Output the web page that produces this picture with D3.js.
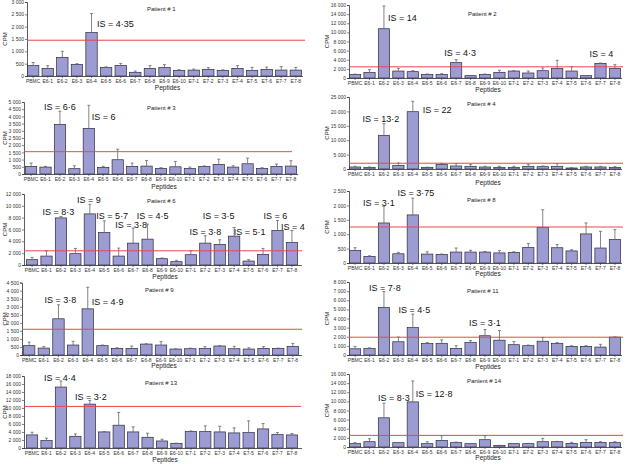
<!DOCTYPE html>
<html><head><meta charset="utf-8">
<script src="https://cdn.jsdelivr.net/npm/d3@7"></script>
<style>
html,body{margin:0;padding:0;background:#fff;}
svg{display:block;font-family:"Liberation Sans",Arial,sans-serif;}
</style></head>
<body>
<svg id="chart" width="626" height="464"></svg>
<script>
// ---------------- DATA ----------------
const categories = ["PBMC","E6-1","E6-2","E6-3","E6-4","E6-5","E6-6","E6-7","E6-8","E6-9","E6-10","E7-1","E7-2","E7-3","E7-4","E7-5","E7-6","E7-7","E7-8"];

const patientNames = ["Patient # 1","Patient # 2","Patient # 3","Patient # 4","Patient # 6","Patient # 8","Patient # 9","Patient # 11","Patient # 13","Partient # 14"];

// mean CPM per peptide
const p1Values  = [420,310,750,470,1760,340,430,150,310,340,230,240,270,230,310,230,270,240,240];
const p1ErrTop  = [550,420,1000,500,2530,370,510,200,420,460,255,280,340,250,420,350,360,380,350];
const p2Values  = [800,1240,10800,1530,1390,800,800,3360,510,800,1240,1530,1100,1600,2120,1530,510,3210,2120];
const p2ErrTop  = [850,1830,15780,2120,1600,880,950,4020,540,880,1680,1600,1530,2190,3870,2480,540,3290,2920];
const p3Values  = [530,480,3440,370,3170,460,990,530,550,390,500,390,530,670,480,710,390,530,550];
const p3ErrTop  = [760,530,4360,570,4770,530,1720,760,940,440,870,480,560,1030,570,1100,440,690,920];
const p4Values  = [700,580,11700,1270,19900,580,1620,1040,930,700,580,580,930,810,930,350,700,700,580];
const p4ErrTop  = [930,700,15740,2080,23500,640,1970,1850,1620,930,930,930,1620,1040,1850,460,930,930,810];
const p6Values  = [900,1510,7960,1910,8640,5500,1510,3700,4370,1070,560,1740,3700,3480,4880,670,1790,5830,3810];
const p6ErrTop  = [1290,2410,8190,2800,10260,7460,2860,6230,6900,1180,790,2410,4940,4260,6340,900,2800,7520,5830];
const p8Values  = [440,230,1390,320,1670,310,300,380,380,380,350,370,540,1240,530,420,1010,520,820];
const p8ErrTop  = [530,250,1970,370,2250,390,310,520,440,400,430,390,680,1850,640,460,1390,1100,1160];
const p9Values  = [580,430,2250,620,2870,580,410,410,680,620,370,390,410,560,390,370,410,410,540];
const p9ErrTop  = [800,520,3120,850,4210,620,450,560,700,830,390,430,520,580,540,450,520,430,720];
const p11Values = [680,700,5200,1450,3000,1250,1280,720,1360,2110,1620,1130,1020,1510,1280,940,940,870,1960];
const p11ErrTop = [950,780,6950,1960,4480,1360,1660,1020,1580,2790,2680,1470,1090,1920,1360,1020,1020,1170,1980];
const p13Values = [3270,1840,15240,2930,10970,4020,5700,4020,2680,1760,1170,4100,4100,4020,3770,3850,4770,3350,3270];
const p13ErrTop = [3940,2430,16750,3520,11890,4100,8880,5280,3690,2180,1200,4270,5530,5440,5030,6780,6110,3850,3600];
const p14Values = [730,1160,6400,950,9890,730,1450,950,730,1600,360,730,730,1160,1160,800,1020,1020,950];
const p14ErrTop = [950,1820,9600,990,14470,1160,2470,1090,760,2470,380,760,800,1890,1240,1020,1600,1160,1160];

// threshold (red line) per patient, CPM
const thresholds = [1450,2450,1550,2000,2400,1250,1600,1950,10400,2550];
// y-axis maxima and tick steps
const yMax  = [3000,16000,5000,25000,12000,2500,4500,8000,18000,16000];
const yStep = [500,2000,500,5000,2000,500,500,1000,2000,2000];

// stimulation index annotations: [text, category, CPM level]
const p1IS  = [["IS = 4·35","E6-4",2000]];
const p2IS  = [["IS = 14","E6-2",12500],["IS = 4·3","E6-7",4800],["IS = 4","E7-7",4600]];
const p3IS  = [["IS = 6·6","E6-2",4440],["IS = 6","E6-4",3750]];
const p4IS  = [["IS = 13·2","E6-2",16300],["IS = 22","E6-4",19440]];
const p6IS  = [["IS = 8·3","E6-2",8450],["IS = 9","E6-4",10480],["IS = 5·7","E6-5",7775],["IS = 3·8","E6-7",6250],["IS = 4·5","E6-8",7775],["IS = 3·8","E7-2",5070],["IS = 3·5","E7-3",7775],["IS = 5·1","E7-5",5070],["IS = 6","E7-7",7775],["IS = 4","E7-8",5915]];
const p8IS  = [["IS = 3·1","E6-2",1980],["IS = 3·75","E6-4",2330]];
const p9IS  = [["IS = 3·8","E6-2",3240],["IS = 4·9","E6-4",3110]];
const p11IS = [["IS = 7·8","E6-2",7010],["IS = 4·5","E6-4",4600],["IS = 3·1","E6-9",3180]];
const p13IS = [["IS = 4·4","E6-2",16750],["IS = 3·2","E6-4",12000]];
const p14IS = [["IS = 8·3","E6-2",10080],["IS = 12·8","E6-4",10960]];

const allValues = [p1Values,p2Values,p3Values,p4Values,p6Values,p8Values,p9Values,p11Values,p13Values,p14Values];
const allErr    = [p1ErrTop,p2ErrTop,p3ErrTop,p4ErrTop,p6ErrTop,p8ErrTop,p9ErrTop,p11ErrTop,p13ErrTop,p14ErrTop];
const allIS     = [p1IS,p2IS,p3IS,p4IS,p6IS,p8IS,p9IS,p11IS,p13IS,p14IS];

// ---------------- LAYOUT ----------------
// x0,x1: category range; axisX: y-axis line; y0: zero line; yT: top; red end; title pos; IS label placement [anchor, dx]
const layout = [
  {x0:26, x1:303, axisX:27, axEnd:303, y0:76,  yT:2,   redEnd:305, tx:147, ty:9,   cpmX:5,   pepY:88,  isPlace:[["start",5.5]]},
  {x0:348,x1:622, axisX:349,axEnd:622, y0:78,  yT:5,   redEnd:623, tx:468, ty:14,  cpmX:327, pepY:90,  isPlace:[["start",4],["middle",4],["middle",1]]},
  {x0:24, x1:298, axisX:24, axEnd:298, y0:174, yT:102, redEnd:292, tx:147, ty:108, cpmX:5,   pepY:187, isPlace:[["middle",0],["start",3]]},
  {x0:348,x1:622, axisX:349,axEnd:622, y0:169, yT:97,  redEnd:623, tx:467, ty:104, cpmX:327, pepY:183, isPlace:[["middle",-3],["start",10]]},
  {x0:25, x1:299, axisX:24, axEnd:302, y0:265, yT:194, redEnd:302, tx:147, ty:201, cpmX:5,   pepY:277, isPlace:[["middle",-2.5],["middle",-1],["middle",8],["middle",-2],["middle",5],["middle",0],["middle",-1],["middle",1],["middle",-2],["middle",1]]},
  {x0:348,x1:622, axisX:349,axEnd:622, y0:263, yT:191, redEnd:623, tx:467, ty:200, cpmX:327, pepY:274, isPlace:[["middle",-5],["middle",3]]},
  {x0:22, x1:300, axisX:22, axEnd:302, y0:355, yT:282.6,redEnd:302,tx:145, ty:290, cpmX:5,   pepY:366, isPlace:[["middle",2],["start",4]]},
  {x0:348,x1:622, axisX:349,axEnd:622, y0:355, yT:282, redEnd:623, tx:467, ty:291, cpmX:327, pepY:367, isPlace:[["middle",1],["middle",1.5],["middle",0]]},
  {x0:25, x1:299, axisX:24, axEnd:302, y0:448, yT:376, redEnd:301, tx:145, ty:383, cpmX:5,   pepY:460, isPlace:[["middle",-1],["middle",1]]},
  {x0:348,x1:622, axisX:349,axEnd:622, y0:447, yT:374, redEnd:623, tx:467, ty:381, cpmX:327, pepY:458, isPlace:[["middle",10],["start",3]]}
];

const barFill = "#9c9cd2", barStroke = "#2a2a40", redColor = "#e34a4a", textColor = "#222";
const fmt = d => d >= 1000 ? d3.format(",")(d).replace(/,/g, " ") : String(d);

const svg = d3.select("#chart");

layout.forEach((L, k) => {
  const vals = allValues[k], errs = allErr[k];
  const x = d3.scaleBand().domain(categories).range([L.x0, L.x1]).paddingInner(0.22).paddingOuter(0.1);
  const y = d3.scaleLinear().domain([0, yMax[k]]).range([L.y0, L.yT]);
  const g = svg.append("g");

  // y axis
  const ticks = d3.range(0, yMax[k] + 1, yStep[k]);
  const yAxis = d3.axisLeft(y).tickValues(ticks).tickFormat(fmt).tickSize(2).tickPadding(1);
  const ya = g.append("g").attr("transform", `translate(${L.axisX},0)`).call(yAxis);
  ya.select(".domain").attr("stroke", "#333").attr("stroke-width", 0.8);
  ya.selectAll(".tick line").attr("stroke", "#333").attr("stroke-width", 0.6);
  ya.selectAll(".tick text").attr("font-size", 5).attr("fill", "#333").attr("font-family", "Liberation Sans, Arial, sans-serif");

  // x axis
  const xa = g.append("g").attr("transform", `translate(0,${L.y0})`)
    .call(d3.axisBottom(x).tickSize(2).tickPadding(1.5));
  xa.select(".domain").attr("stroke", "#333").attr("stroke-width", 0.8)
    .attr("d", `M${L.axisX},0.5H${L.axEnd}`);
  xa.selectAll(".tick line").attr("stroke", "#333").attr("stroke-width", 0.6);
  xa.selectAll(".tick text").attr("font-size", 5).attr("fill", "#333").attr("font-family", "Liberation Sans, Arial, sans-serif");

  // bars
  g.selectAll("rect.bar").data(categories).join("rect").attr("class", "bar")
    .attr("x", d => x(d)).attr("width", x.bandwidth())
    .attr("y", (d, i) => y(vals[i])).attr("height", (d, i) => L.y0 - y(vals[i]))
    .attr("fill", barFill).attr("stroke", barStroke).attr("stroke-width", 0.7);

  // error bars
  const eg = g.append("g").attr("stroke", "#666").attr("stroke-width", 0.8);
  categories.forEach((c, i) => {
    const cx = x(c) + x.bandwidth() / 2;
    if (errs[i] > vals[i]) {
      eg.append("line").attr("x1", cx).attr("x2", cx).attr("y1", y(vals[i])).attr("y2", y(errs[i]));
      eg.append("line").attr("x1", cx - 1.5).attr("x2", cx + 1.5).attr("y1", y(errs[i])).attr("y2", y(errs[i]));
    }
  });

  // threshold line
  g.append("line").attr("x1", L.axisX).attr("x2", L.redEnd)
    .attr("y1", y(thresholds[k])).attr("y2", y(thresholds[k]))
    .attr("stroke", redColor).attr("stroke-width", 1);

  // title
  g.append("text").attr("x", L.tx).attr("y", L.ty + 2).attr("font-size", 6).attr("fill", textColor).text(patientNames[k]);

  // CPM label
  g.append("text").attr("transform", `translate(${L.cpmX + 2},${(L.y0 + L.yT) / 2}) rotate(-90)`)
    .attr("text-anchor", "middle").attr("font-size", 6).attr("fill", textColor).text("CPM");

  // Peptides label
  g.append("text").attr("x", (L.x0 + L.x1) / 2 + 3).attr("y", L.pepY + 2).attr("text-anchor", "middle")
    .attr("font-size", 6.5).attr("fill", textColor).text("Peptides");

  // IS labels
  allIS[k].forEach((a, j) => {
    const [anchor, dx] = L.isPlace[j];
    g.append("text").attr("x", x(a[1]) + x.bandwidth() / 2 + dx).attr("y", y(a[2]))
      .attr("text-anchor", anchor).attr("font-size", 9).attr("fill", "#111").text(a[0]);
  });
});
</script>
</body></html>
